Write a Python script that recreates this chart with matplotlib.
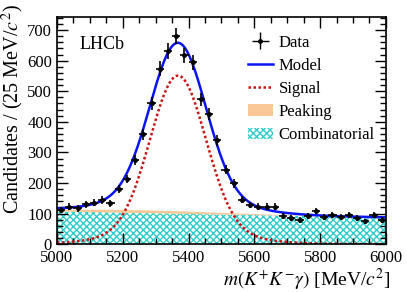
import matplotlib
matplotlib.use("Agg")
import matplotlib.pyplot as plt
import numpy as np
from matplotlib.patches import Patch
from matplotlib.ticker import MultipleLocator

plt.rcParams["font.family"] = ["Liberation Serif", "DejaVu Serif"]
plt.rcParams["mathtext.fontset"] = "stix"
plt.rcParams["hatch.linewidth"] = 1.0

# binned data, 25 MeV bins from 5000 to 6000
BIN_LO = 5000
BIN_WIDTH = 25
COUNTS = [111, 123, 117, 130, 135, 144, 133, 181, 213, 276,
          359, 461, 574, 632, 680, 618, 594, 474, 426, 339,
          244, 199, 145, 128, 122, 122, 122, 93, 85, 79,
          92, 109, 89, 94, 89, 96, 85, 75, 95, 79]

# fitted components (candidates per 25 MeV)
SIG_MEAN = 5368
SIG_CORE = [506, 84]      # amplitude, width
SIG_TAIL = [45, 170]
PEAK_PARS = [9, 5250, 250]  # amplitude, mean, width
COMB_PARS = [107, -0.0002]  # value at 5000, slope

BLUE = "#0a14f0"
RED = "#cc1111"
ORANGE = "#fac896"
CYAN = "#2ccccc"


def signal(m):
    d = m - SIG_MEAN
    return (SIG_CORE[0] * np.exp(-0.5 * (d / SIG_CORE[1]) ** 2)
            + SIG_TAIL[0] * np.exp(-0.5 * (d / SIG_TAIL[1]) ** 2))


def peaking(m):
    return PEAK_PARS[0] * np.exp(-0.5 * ((m - PEAK_PARS[1]) / PEAK_PARS[2]) ** 2)


def combinatorial(m):
    return COMB_PARS[0] * np.exp(COMB_PARS[1] * (m - BIN_LO))


def main():
    counts = np.array(COUNTS, dtype=float)
    centres = BIN_LO + BIN_WIDTH * (np.arange(len(counts)) + 0.5)
    m = np.linspace(5000, 6000, 500)

    comb = combinatorial(m)
    peak = peaking(m)
    sig = signal(m)
    model = comb + peak + sig

    fig = plt.figure(figsize=(4.07, 2.92), dpi=100)
    ax = fig.add_axes([0.140, 0.164, 0.808, 0.778])

    ax.fill_between(m, 0, comb, facecolor="white", edgecolor=CYAN,
                    hatch="xxxxx", linewidth=0)
    ax.fill_between(m, comb, comb + peak, facecolor=ORANGE, linewidth=0)
    ax.plot(m, sig, color=RED, ls=(0, (1, 1)), lw=1.8)
    ax.plot(m, model, color=BLUE, lw=1.8)
    ax.errorbar(centres, counts, xerr=BIN_WIDTH / 2, yerr=np.sqrt(counts),
                fmt="o", ms=2.5, color="black", lw=1.2, capsize=0)

    ax.set_xlim(5000, 6000)
    ax.set_ylim(0, 743)
    ax.xaxis.set_major_locator(MultipleLocator(200))
    ax.xaxis.set_minor_locator(MultipleLocator(50))
    ax.yaxis.set_major_locator(MultipleLocator(100))
    ax.yaxis.set_minor_locator(MultipleLocator(20))
    ax.tick_params(which="both", direction="in", top=True, right=True,
                   labelsize=12, width=1)
    ax.tick_params(which="major", length=8)
    ax.tick_params(which="minor", length=4)
    ax.tick_params(axis="x", pad=4)
    for s in ax.spines.values():
        s.set_linewidth(1.2)

    ax.set_xlabel(r"$m(K^{+}K^{-}\gamma)$ [MeV/$c^{2}$]", fontsize=14,
                  loc="right")
    ax.xaxis.set_label_coords(1.012, -0.102)
    ax.set_ylabel(r"Candidates / (25 MeV/$c^{2}$)", fontsize=14.5, loc="top")
    ax.yaxis.set_label_coords(-0.093, 1.057)
    ax.text(0.07, 0.88, "LHCb", transform=ax.transAxes, fontsize=13,
            va="center", ha="left")

    h_data = ax.errorbar([], [], xerr=[], yerr=[], fmt="o", ms=2.5,
                         color="black", lw=1.0)
    h_model, = ax.plot([], [], color=BLUE, lw=1.8)
    h_sig, = ax.plot([], [], color=RED, ls=(0, (1, 1)), lw=1.8)
    h_peak = Patch(facecolor=ORANGE, linewidth=0)
    h_comb = Patch(facecolor="white", edgecolor=CYAN, hatch="xxxxx",
                   linewidth=0)
    ax.legend([h_data, h_model, h_sig, h_peak, h_comb],
              ["Data", "Model", "Signal", "Peaking", "Combinatorial"],
              loc="upper left", bbox_to_anchor=(0.56, 0.952), frameon=False,
              fontsize=12, handlelength=1.5, handletextpad=0.35,
              labelspacing=0.43, borderaxespad=0)

    fig.savefig("out.png", dpi=100)


if __name__ == "__main__":
    main()
